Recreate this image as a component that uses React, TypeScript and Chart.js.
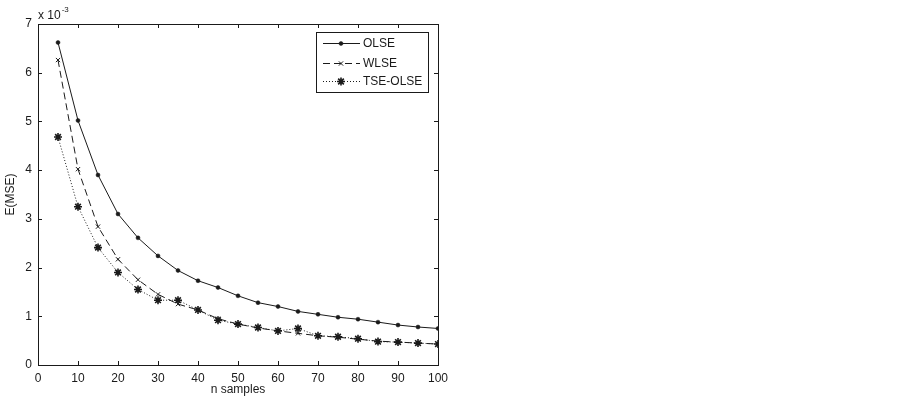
import React, { useEffect, useRef } from "react";
import { Chart, registerables, PointElement } from "chart.js";

Chart.register(...registerables);

const nSamples = [5, 10, 15, 20, 25, 30, 35, 40, 45, 50, 55, 60, 65, 70, 75, 80, 85, 90, 95, 100];
const olse = [6.62, 5.02, 3.9, 3.1, 2.61, 2.24, 1.94, 1.73, 1.59, 1.42, 1.28, 1.2, 1.1, 1.04, 0.98, 0.94, 0.88, 0.82, 0.78, 0.75];
const wlse = [6.26, 4.02, 2.84, 2.17, 1.75, 1.45, 1.25, 1.13, 0.95, 0.84, 0.76, 0.7, 0.65, 0.6, 0.57, 0.53, 0.49, 0.47, 0.45, 0.43];
const tseOlse = [4.68, 3.25, 2.41, 1.9, 1.55, 1.33, 1.33, 1.13, 0.92, 0.84, 0.77, 0.7, 0.75, 0.6, 0.58, 0.54, 0.48, 0.47, 0.45, 0.43];
const seriesNames = ["OLSE", "WLSE", "TSE-OLSE"];
const xTitle = "n samples";
const yTitle = "E(MSE)";
const exponentBase = "x 10";
const exponentPower = "-3";

const FONT = "'Liberation Sans', Arial, Helvetica, sans-serif";
const INK = "#1a1a1a";

const frame = {
  id: "matlabFrame",
  afterDatasetsDraw(chart: any) {
    const { ctx, chartArea: a, scales } = chart;
    const xs = scales.x;
    const ys = scales.y;
    ctx.save();
    ctx.strokeStyle = INK;
    ctx.lineWidth = 1;
    ctx.setLineDash([]);
    ctx.strokeRect(Math.round(a.left) + 0.5, Math.round(a.top) + 0.5, Math.round(a.right - a.left), Math.round(a.bottom - a.top));
    const tl = 4;
    ctx.beginPath();
    xs.ticks.forEach((t: any) => {
      const px = Math.round(xs.getPixelForValue(t.value)) + 0.5;
      ctx.moveTo(px, a.bottom);
      ctx.lineTo(px, a.bottom - tl);
      ctx.moveTo(px, a.top);
      ctx.lineTo(px, a.top + tl);
    });
    ys.ticks.forEach((t: any) => {
      const py = Math.round(ys.getPixelForValue(t.value)) + 0.5;
      ctx.moveTo(a.left, py);
      ctx.lineTo(a.left + tl, py);
      ctx.moveTo(a.right, py);
      ctx.lineTo(a.right - tl, py);
    });
    ctx.stroke();

    // exponent label
    ctx.fillStyle = INK;
    ctx.textBaseline = "alphabetic";
    ctx.textAlign = "left";
    ctx.font = `12px ${FONT}`;
    ctx.fillText(exponentBase, a.left, a.top - 5);
    const w = ctx.measureText(exponentBase).width;
    ctx.font = `8px ${FONT}`;
    ctx.fillText(exponentPower, a.left + w + 1, a.top - 12);

    // legend
    const lx = 316, ly = 32, lw = 112, lh = 60;
    ctx.fillStyle = "#ffffff";
    ctx.fillRect(lx, ly, lw, lh);
    ctx.strokeStyle = INK;
    ctx.strokeRect(lx + 0.5, ly + 0.5, lw, lh);
    const rows = [43, 63, 81];
    chart.data.datasets.forEach((ds: any, i: number) => {
      const y = rows[i] + 0.5;
      ctx.save();
      ctx.strokeStyle = ds.borderColor;
      ctx.lineWidth = 1;
      ctx.setLineDash(ds.borderDash || []);
      ctx.beginPath();
      ctx.moveTo(323, y);
      ctx.lineTo(360, y);
      ctx.stroke();
      ctx.restore();
      const pt: any = new (PointElement as any)({
        x: 341,
        y,
        skip: false,
        options: {
          pointStyle: ds.pointStyle,
          radius: ds.pointRadius,
          borderWidth: ds.pointBorderWidth ?? 1,
          borderColor: INK,
          backgroundColor: INK,
          rotation: 0,
        },
      });
      pt.draw(ctx, { left: 0, top: 0, right: 903, bottom: 401 });
      ctx.save();
      ctx.fillStyle = INK;
      ctx.font = `12px ${FONT}`;
      ctx.textBaseline = "middle";
      ctx.textAlign = "left";
      ctx.fillText(ds.label, 363, y);
      ctx.restore();
    });
    ctx.restore();
  },
};

export default function App() {
  const ref = useRef<HTMLCanvasElement | null>(null);
  useEffect(() => {
    if (!ref.current) return;
    const mk = (d: number[]) => d.map((v, i) => ({ x: nSamples[i], y: v }));
    const chart = new Chart(ref.current, {
      type: "line",
      data: {
        datasets: [
          {
            label: seriesNames[0],
            data: mk(olse),
            borderColor: INK,
            backgroundColor: INK,
            borderWidth: 1,
            pointStyle: "circle",
            pointRadius: 2,
            pointBorderWidth: 0.5,
            tension: 0,
          },
          {
            label: seriesNames[1],
            data: mk(wlse),
            borderColor: INK,
            backgroundColor: INK,
            borderWidth: 1,
            borderDash: [7, 4],
            pointStyle: "crossRot",
            pointRadius: 3,
            pointBorderWidth: 1,
            tension: 0,
          },
          {
            label: seriesNames[2],
            data: mk(tseOlse),
            borderColor: INK,
            backgroundColor: INK,
            borderWidth: 1,
            borderDash: [1, 2],
            pointStyle: "star",
            pointRadius: 4,
            pointBorderWidth: 1.6,
            tension: 0,
          },
        ],
      },
      plugins: [frame],
      options: {
        animation: false,
        responsive: false,
        events: [],
        layout: { padding: { left: 0, top: 24, right: 465, bottom: 0 } },
        plugins: { legend: { display: false }, tooltip: { enabled: false } },
        scales: {
          x: {
            type: "linear",
            min: 0,
            max: 100,
            ticks: { stepSize: 10, color: INK, font: { family: FONT, size: 12 }, padding: 6, maxRotation: 0 },
            grid: { display: false, drawTicks: false },
            border: { display: false },
            title: { display: true, text: xTitle, color: INK, font: { family: FONT, size: 12 }, padding: { top: 0, bottom: 4 } },
            afterFit: (s: any) => { s.height = 36; },
          },
          y: {
            type: "linear",
            min: 0,
            max: 7,
            ticks: { stepSize: 1, color: INK, font: { family: FONT, size: 12 }, padding: 6 },
            grid: { display: false, drawTicks: false },
            border: { display: false },
            title: { display: true, text: yTitle, color: INK, font: { family: FONT, size: 12 }, padding: { top: 3, bottom: 0 } },
            afterFit: (s: any) => { s.width = 38; },
          },
        },
      } as any,
    });
    return () => chart.destroy();
  }, []);
  return (
    <div style={{ position: "absolute", left: 0, top: 0, width: 903, height: 401, background: "#fff" }}>
      <canvas ref={ref} width={903} height={401} style={{ display: "block", width: 903, height: 401 }} />
    </div>
  );
}
